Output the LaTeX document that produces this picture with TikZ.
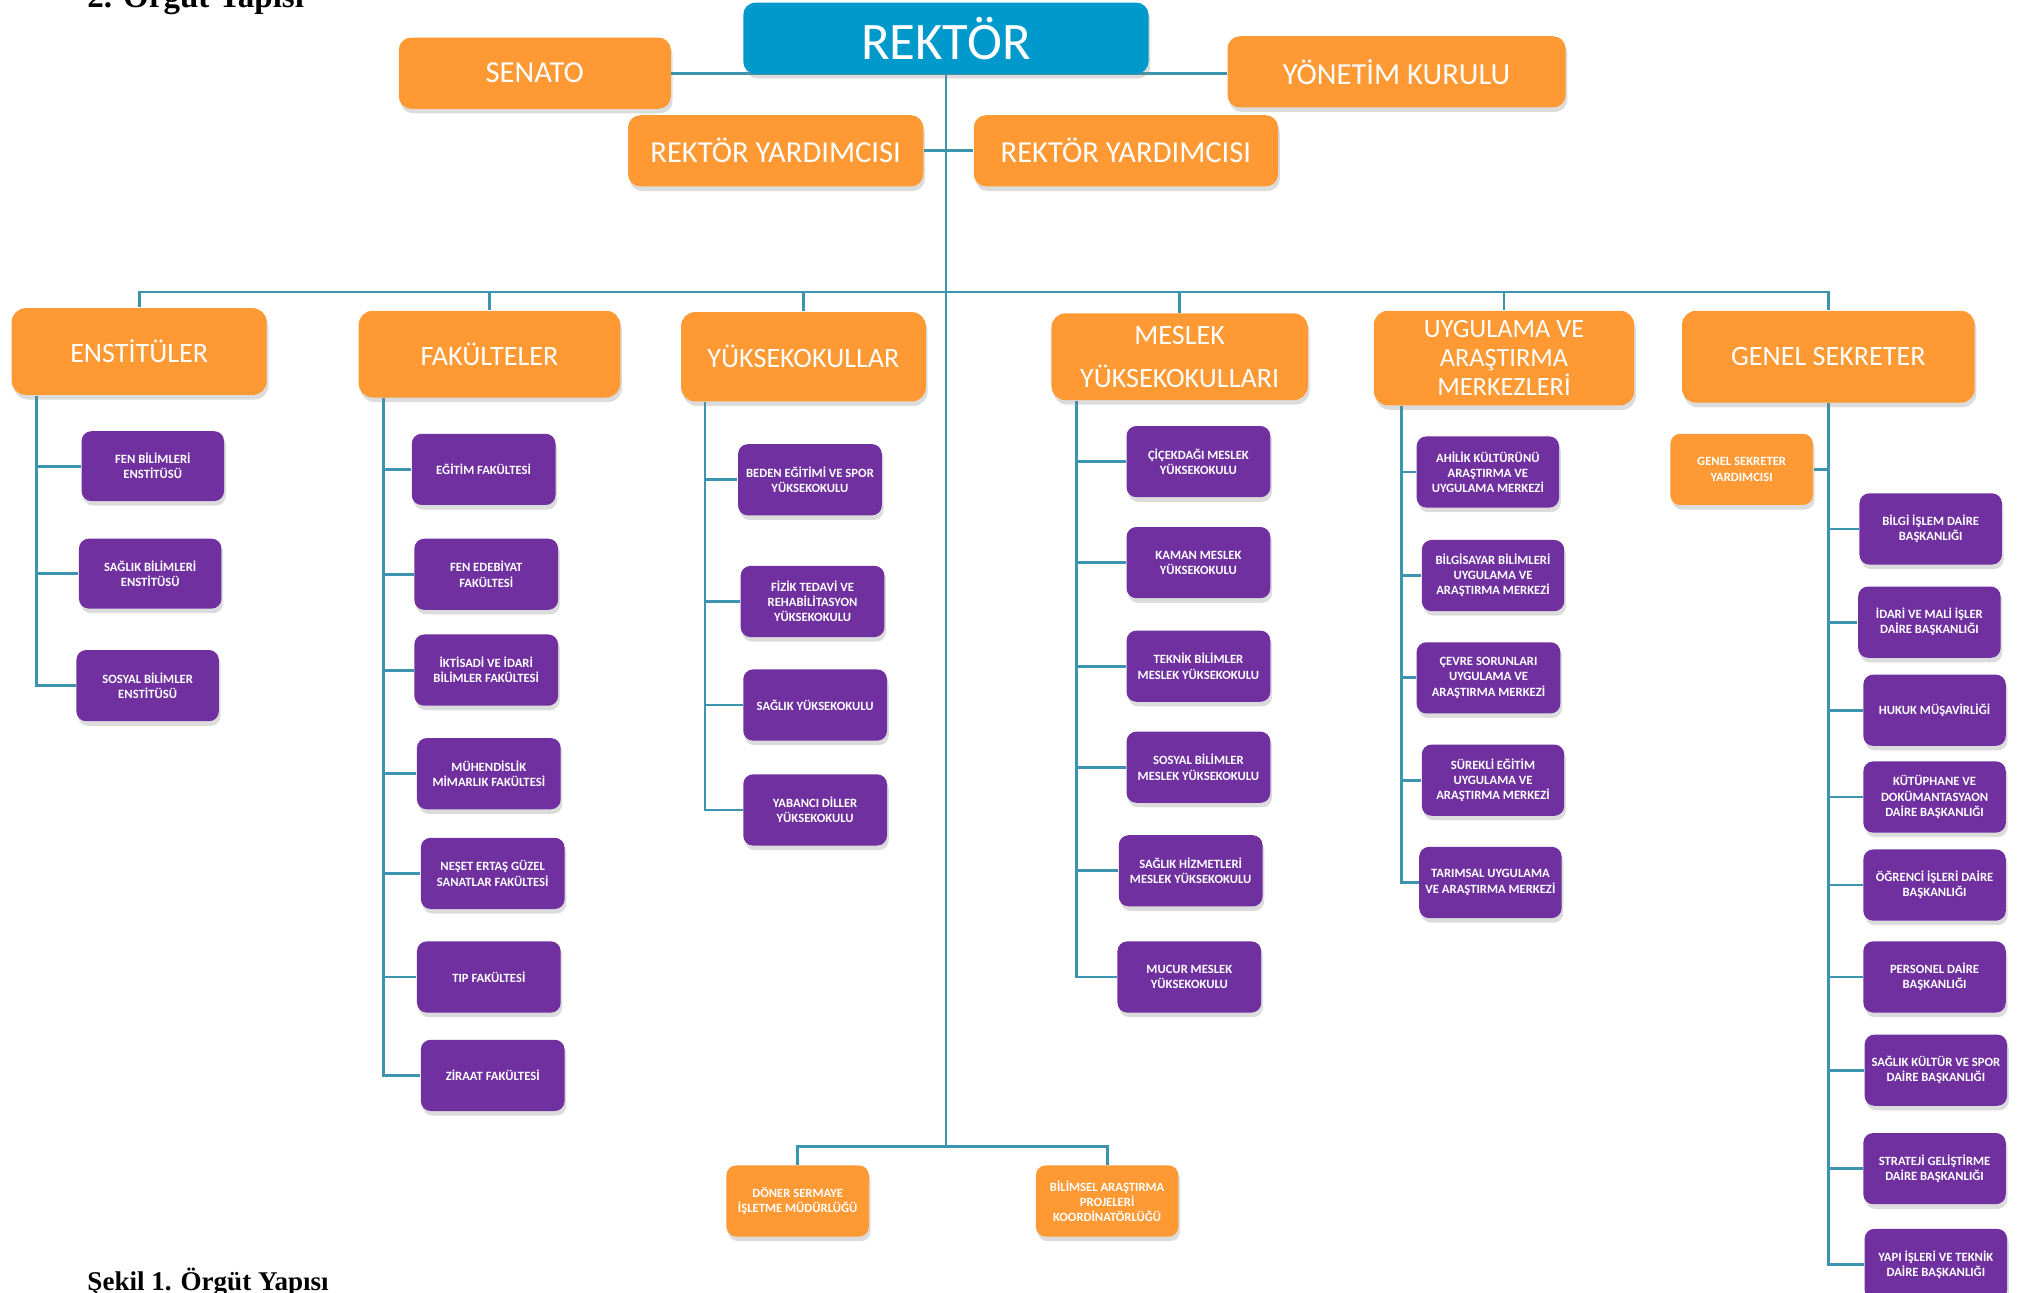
\documentclass[tikz,border=0pt]{standalone}
\usepackage{fontspec}
\setmainfont{Carlito}
\newfontfamily\capfont{Liberation Serif}
\usetikzlibrary{shadows,calc}
\definecolor{orangeC}{RGB}{254,153,52}
\definecolor{purpleC}{RGB}{112,48,160}
\definecolor{blueC}{RGB}{0,153,204}
\definecolor{lineC}{RGB}{60,148,175}
\pgfdeclarelayer{bg}
\pgfsetlayers{bg,main}
\tikzset{
 base/.style={inner sep=0pt, text=white, align=center,
   drop shadow={opacity=0.28, shadow xshift=0.5pt, shadow yshift=-1.3pt}},
 headbox/.style={base, fill=blueC, rounded corners=3.5pt, font=\fontsize{15}{16}\selectfont},
 topbox/.style={base, fill=orangeC, rounded corners=3.5pt, font=\fontsize{8.7}{10}\selectfont},
 catbox/.style={base, fill=orangeC, rounded corners=4pt, font=\fontsize{8}{9.5}\selectfont},
 unitbox/.style={base, fill=purpleC, rounded corners=2.8pt, font=\bfseries\fontsize{3.6}{4.3}\selectfont},
 subbox/.style={unitbox, fill=orangeC},
 conn/.style={draw=lineC, line width=0.8pt},
 captext/.style={anchor=base west, inner sep=0pt, text=black}
}
\newcommand\orgbox[7]{\node[#6, minimum width={(#4-#2)*0.012949cm}, minimum height={(#5-#3)*0.012949cm}] (#1) at ({(#2+#4)/2},{(#3+#5)/2}) {#7};}
\begin{document}
\begin{tikzpicture}[x=0.012949cm, y=-0.012949cm]
\useasboundingbox (0,0) rectangle (1560,998.5);
% top level
\orgbox{rektor}{574}{2}{887}{57}{headbox}{REKTÖR}
\orgbox{senato}{308}{29}{518}{84}{topbox}{SENATO}
\orgbox{yk}{948}{28}{1209}{83}{topbox}{YÖNETİM KURULU}
\orgbox{ryA}{485}{89}{713}{144}{topbox}{REKTÖR YARDIMCISI}
\orgbox{ryB}{752}{89}{987}{144}{topbox}{REKTÖR YARDIMCISI}
% categories
\orgbox{enst}{9}{238}{206}{305}{catbox}{ENSTİTÜLER}
\orgbox{fak}{277}{240}{479}{307}{catbox}{FAKÜLTELER}
\orgbox{yo}{526}{241}{715}{310}{catbox}{YÜKSEKOKULLAR}
\orgbox{myo}{812}{242}{1010}{309}{catbox, font=\fontsize{8}{12.2}\selectfont}{MESLEK\\YÜKSEKOKULLARI}
\orgbox{uam}{1061}{240}{1262}{313}{catbox, font=\fontsize{7.5}{8.3}\selectfont}{UYGULAMA VE\\ARAŞTIRMA\\MERKEZLERİ}
\orgbox{gs}{1299}{240}{1525}{311}{catbox}{GENEL SEKRETER}
% enstituler
\orgbox{fen}{63}{333}{173}{387}{unitbox}{FEN BİLİMLERİ\\ENSTİTÜSÜ}
\orgbox{sag}{61}{416}{171}{470}{unitbox}{SAĞLIK BİLİMLERİ\\ENSTİTÜSÜ}
\orgbox{sos}{59}{502}{169}{557}{unitbox}{SOSYAL BİLİMLER\\ENSTİTÜSÜ}
% fakulteler
\orgbox{egt}{318}{335}{429}{390}{unitbox}{EĞİTİM FAKÜLTESİ}
\orgbox{fe}{320}{416}{431}{471}{unitbox}{FEN EDEBİYAT\\FAKÜLTESİ}
\orgbox{iibf}{320}{490}{431}{545}{unitbox}{İKTİSADİ VE İDARİ\\BİLİMLER FAKÜLTESİ}
\orgbox{muh}{322}{570}{433}{625}{unitbox}{MÜHENDİSLİK\\MİMARLIK FAKÜLTESİ}
\orgbox{neset}{325}{647}{436}{702}{unitbox}{NEŞET ERTAŞ GÜZEL\\SANATLAR FAKÜLTESİ}
\orgbox{tip}{322}{727}{433}{782}{unitbox}{TIP FAKÜLTESİ}
\orgbox{zir}{325}{803}{436}{858}{unitbox}{ZİRAAT FAKÜLTESİ}
% yuksekokullar
\orgbox{beden}{570}{343}{681}{398}{unitbox}{BEDEN EĞİTİMİ VE SPOR\\YÜKSEKOKULU}
\orgbox{fizik}{572}{437}{683}{492}{unitbox}{FİZİK TEDAVİ VE\\REHABİLİTASYON\\YÜKSEKOKULU}
\orgbox{sagyo}{574}{517}{685}{572}{unitbox}{SAĞLIK YÜKSEKOKULU}
\orgbox{yab}{574}{598}{685}{653}{unitbox}{YABANCI DİLLER\\YÜKSEKOKULU}
% meslek yuksekokullari
\orgbox{cic}{870}{329}{981}{384}{unitbox}{ÇİÇEKDAĞI MESLEK\\YÜKSEKOKULU}
\orgbox{kam}{870}{407}{981}{462}{unitbox}{KAMAN MESLEK\\YÜKSEKOKULU}
\orgbox{tek}{870}{487}{981}{542}{unitbox}{TEKNİK BİLİMLER\\MESLEK YÜKSEKOKULU}
\orgbox{sosm}{870}{565}{981}{620}{unitbox}{SOSYAL BİLİMLER\\MESLEK YÜKSEKOKULU}
\orgbox{shm}{864}{645}{975}{700}{unitbox}{SAĞLIK HİZMETLERİ\\MESLEK YÜKSEKOKULU}
\orgbox{muc}{863}{727}{974}{782}{unitbox}{MUCUR MESLEK\\YÜKSEKOKULU}
% uygulama ve arastirma merkezleri
\orgbox{ahi}{1094}{337}{1204}{392}{unitbox}{AHİLİK KÜLTÜRÜNÜ\\ARAŞTIRMA VE\\UYGULAMA MERKEZİ}
\orgbox{bil}{1098}{417}{1208}{472}{unitbox}{BİLGİSAYAR BİLİMLERİ\\UYGULAMA VE\\ARAŞTIRMA MERKEZİ}
\orgbox{cev}{1094}{496}{1205}{551}{unitbox}{ÇEVRE SORUNLARI\\UYGULAMA VE\\ARAŞTIRMA MERKEZİ}
\orgbox{sur}{1098}{575}{1208}{630}{unitbox}{SÜREKLİ EĞİTİM\\UYGULAMA VE\\ARAŞTIRMA MERKEZİ}
\orgbox{tar}{1096}{654}{1206}{709}{unitbox}{TARIMSAL UYGULAMA\\VE ARAŞTIRMA MERKEZİ}
% genel sekreter
\orgbox{gsy}{1290}{335}{1400}{390}{subbox}{GENEL SEKRETER\\YARDIMCISI}
\orgbox{bim}{1436}{381}{1546}{436}{unitbox}{BİLGİ İŞLEM DAİRE\\BAŞKANLIĞI}
\orgbox{imi}{1435}{453}{1545}{508}{unitbox}{İDARİ VE MALİ İŞLER\\DAİRE BAŞKANLIĞI}
\orgbox{huk}{1439}{521}{1549}{576}{unitbox}{HUKUK MÜŞAVİRLİĞİ}
\orgbox{kut}{1439}{588}{1549}{643}{unitbox}{KÜTÜPHANE VE\\DOKÜMANTASYAON\\DAİRE BAŞKANLIĞI}
\orgbox{ogr}{1439}{656}{1549}{711}{unitbox}{ÖĞRENCİ İŞLERİ DAİRE\\BAŞKANLIĞI}
\orgbox{per}{1439}{727}{1549}{782}{unitbox}{PERSONEL DAİRE\\BAŞKANLIĞI}
\orgbox{skd}{1440}{799}{1550}{854}{unitbox}{SAĞLIK KÜLTÜR VE SPOR\\DAİRE BAŞKANLIĞI}
\orgbox{str}{1439}{875}{1549}{930}{unitbox}{STRATEJİ GELİŞTİRME\\DAİRE BAŞKANLIĞI}
\orgbox{yap}{1440}{949}{1550}{1004}{unitbox}{YAPI İŞLERİ VE TEKNİK\\DAİRE BAŞKANLIĞI}
% bottom units
\orgbox{doner}{561}{900}{671}{955}{subbox}{DÖNER SERMAYE\\İŞLETME MÜDÜRLÜĞÜ}
\orgbox{bap}{800}{900}{910}{955}{subbox}{BİLİMSEL ARAŞTIRMA\\PROJELERİ\\KOORDİNATÖRLÜĞÜ}
% captions
\node[captext, font=\capfont\bfseries\fontsize{9.4}{11}\selectfont] (title) at (67,5.5) {2. Örgüt Yapısı};
\node[captext, font=\capfont\bfseries\fontsize{7.7}{9}\selectfont] (caption) at (67,996.5) {Şekil 1. Örgüt Yapısı};
% connectors
\begin{pgfonlayer}{bg}
\draw[conn] (senato.east) -- (senato.east -| yk.west);
\draw[conn] (ryA.east) -- (ryB.west);
\coordinate (tb) at ($(rektor.south |- doner.north)+(0,-14)$);
\draw[conn] (rektor.south) -- (tb);
\draw[conn] (doner.north) |- (tb) -| (bap.north);
\coordinate (bus) at ($(rektor.south |- enst.north)+(0,-12)$);
\foreach \n in {enst,fak,yo,myo,uam,gs} \draw[conn] (\n.north) |- (bus);
\coordinate (sE) at ($(enst.south west)+(20,0)$);
\foreach \c in {fen,sag,sos} \draw[conn] (sE) |- (\c.west);
\coordinate (sF) at ($(fak.south west)+(20,0)$);
\foreach \c in {egt,fe,iibf,muh,neset,tip,zir} \draw[conn] (sF) |- (\c.west);
\coordinate (sY) at ($(yo.south west)+(19,0)$);
\foreach \c in {beden,fizik,sagyo,yab} \draw[conn] (sY) |- (\c.west);
\coordinate (sM) at ($(myo.south west)+(20,0)$);
\foreach \c in {cic,kam,tek,sosm,shm,muc} \draw[conn] (sM) |- (\c.west);
\coordinate (sU) at ($(uam.south west)+(22,0)$);
\foreach \c in {ahi,bil,cev,sur,tar} \draw[conn] (sU) |- (\c.west);
\draw[conn] (gs.south) |- (gsy.east);
\foreach \c in {bim,imi,huk,kut,ogr,per,skd,str,yap} \draw[conn] (gs.south) |- (\c.west);
\end{pgfonlayer}
\end{tikzpicture}
\end{document}
